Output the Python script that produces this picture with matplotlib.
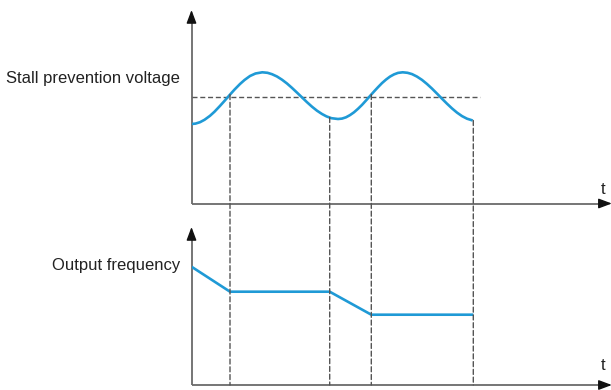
import numpy as np
import matplotlib
matplotlib.use("Agg")
import matplotlib.pyplot as plt
from matplotlib.patches import ConnectionPatch

# ---- data (arbitrary time units) ----
wave_t = [0, 4, 8.5, 13, 18.5, 23, 28.5, 33, 38.5, 43, 48.5, 53, 58.5, 64, 70.8,
          76, 80.5, 85.5, 90.5, 95.5, 100.5, 105.5, 110.5, 115.5, 120.5, 125.5,
          130.5, 135, 140, 146.5,
          150.5, 154.5, 158.5, 162.5, 166.5, 170.5, 174.5, 178.5, 182.5, 186.5,
          190.5, 194.5, 198.5, 202.5, 206.5, 211.2,
          216, 220.5, 225.5, 230.5, 235.5, 240.5, 245.5, 250.5, 255.5, 260.5,
          265.5, 270.5, 275.5, 281.2]
wave_v = [79.5, 79.9, 81.3, 83.7, 87.7, 91.8, 97.6, 102.6, 108.9, 113.9, 119.5,
          123.5, 127.5, 130.0, 131.2,
          130.7, 129.3, 127.0, 123.8, 120.0, 115.6, 110.9, 106.1, 101.3, 96.8,
          92.8, 89.5, 87.1, 85.3, 84.5,
          84.9, 86.2, 88.4, 91.2, 94.7, 98.6, 103.0, 107.5, 112.0, 116.3, 120.4,
          123.9, 126.9, 129.1, 130.6, 131.2,
          130.7, 129.4, 126.9, 123.6, 119.5, 114.9, 109.9, 104.8, 99.8, 95.1,
          90.9, 87.4, 84.8, 83.0]
stall_level = 106.8
stall_line_end = 288.5

event_t = [38.5, 138.2, 179.8, 281.8]

freq_t = [0, 38.5, 138.2, 179.8, 281.8]
freq_v = [118.3, 93.3, 93.3, 70.3, 70.3]

labels = ["Stall prevention voltage", "Output frequency"]
time_label = "t"

# ---- style ----
W, H = 611, 390
BLUE = "#1f9ad6"
AXC = "#6a6a6a"
DASHC = "#555555"
FONT = "Liberation Sans"
plt.rcParams["font.family"] = [FONT, "DejaVu Sans"]

fig = plt.figure(figsize=(W / 100, H / 100), dpi=100)
fig.patch.set_facecolor("white")

def fx(px):
    return px / W

def fy(py):
    return (H - py) / H

x_left = 191.5
xmax = W - x_left
ax1 = fig.add_axes([fx(x_left), fy(203.5), (W - x_left) / W, (203.5 - 10) / H])
ax2 = fig.add_axes([fx(x_left), fy(385), (W - x_left) / W, (385 - 227) / H])
ax1.set_ylim(0, 203.5 - 10)
ax2.set_ylim(0, 385 - 227)

for ax in (ax1, ax2):
    ax.set_xlim(0, xmax)
    for s in ax.spines.values():
        s.set_visible(False)
    ax.set_xticks([])
    ax.set_yticks([])
    ax.patch.set_alpha(0)
    # axis lines
    ax.plot([0, 0], [0, 0.97], transform=ax.transAxes, color=AXC, lw=1.3,
            clip_on=False, solid_capstyle="butt")
    ax.plot([0, 0.985], [0, 0], transform=ax.transAxes, color=AXC, lw=1.3,
            clip_on=False, solid_capstyle="butt")
    # arrow heads
    ax.annotate("", xy=(0, 1), xycoords="axes fraction",
                xytext=(0, -8), textcoords="offset points",
                arrowprops=dict(arrowstyle="-|>,head_length=0.8,head_width=0.3",
                                color="#111111", lw=1, mutation_scale=10,
                                shrinkA=0, shrinkB=0))
    ax.annotate("", xy=(1.002, 0), xycoords="axes fraction",
                xytext=(-8, 0), textcoords="offset points",
                arrowprops=dict(arrowstyle="-|>,head_length=0.8,head_width=0.3",
                                color="#111111", lw=1, mutation_scale=10,
                                shrinkA=0, shrinkB=0))

DASH = (0, (3.6, 2.0))

# stall prevention level
ax1.plot([0, stall_line_end], [stall_level, stall_level], color=DASHC, lw=1.0,
         linestyle=DASH)
# voltage wave
ax1.plot(wave_t, wave_v, color=BLUE, lw=1.9, solid_capstyle="butt",
         solid_joinstyle="round")
# frequency
ax2.plot(freq_t, freq_v, color=BLUE, lw=1.9, solid_capstyle="butt")

# vertical event lines spanning both panels
for t in event_t:
    v = float(np.interp(t, wave_t, wave_v))
    con = ConnectionPatch(xyA=(t, v), coordsA=ax1.transData,
                          xyB=(t, 0), coordsB=ax2.transData,
                          color=DASHC, lw=1.0, linestyle=DASH)
    fig.add_artist(con)

# texts
fig.text(fx(180), fy(83), labels[0], ha="right", va="baseline", fontsize=12,
         color="#222222")
fig.text(fx(180), fy(270), labels[1], ha="right", va="baseline", fontsize=12,
         color="#222222")
fig.text(fx(602.7), fy(194), time_label, ha="center", va="baseline", fontsize=12,
         color="#222222")
fig.text(fx(602.7), fy(370.5), time_label, ha="center", va="baseline", fontsize=12,
         color="#222222")

fig.savefig("out.png", dpi=100, facecolor="white")
